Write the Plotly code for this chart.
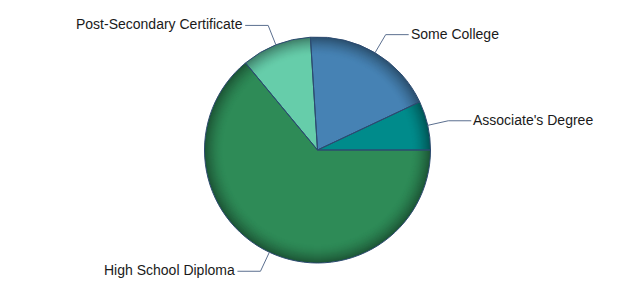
import numpy as np
import plotly.graph_objects as go

# Education attainment shares (percent)
labels = ["Associate's Degree", "Some College", "Post-Secondary Certificate", "High School Diploma"]
shares = [7, 19, 10, 64]
colors = ["#008B8B", "#4682B4", "#66CDAA", "#2E8B57"]

W, H = 635, 300
CX, CY, R = 317.5, 150.0, 113.0  # pie centre and radius in px


def domain(scale):
    r = R * scale
    return dict(x=[(CX - r) / W, (CX + r) / W],
                y=[1 - (CY + r) / H, 1 - (CY - r) / H])


def shade(hex_color, f):
    h = hex_color.lstrip("#")
    rgb = [int(h[i:i + 2], 16) for i in (0, 2, 4)]
    return "rgb({},{},{})".format(*[int(round(c * f)) for c in rgb])


total = float(sum(shares))
# Counterclockwise pies in plotly end their first slice at `rotation`,
# so shift it so the first slice starts at 3 o'clock.
rot = 90 - 360.0 * shares[0] / total

common = dict(labels=labels, values=shares, sort=False, direction="counterclockwise",
              rotation=rot, textinfo="none", hoverinfo="skip", showlegend=False)

fig = go.Figure()

# Layered discs give the darker rim around the pie
inner = 0.84
steps = 18
for k in range(steps + 1):
    s = 1.0 - (1.0 - inner) * k / steps
    t = (s - inner) / (1.0 - inner)
    f = 1.0 - 0.38 * t ** 1.6
    fig.add_trace(go.Pie(domain=domain(s), marker=dict(colors=[shade(c, f) for c in colors],
                                                        line=dict(width=0)), **common))

# Slice outlines on top
fig.add_trace(go.Pie(domain=domain(1.0),
                     marker=dict(colors=["rgba(0,0,0,0)"] * len(shares),
                                 line=dict(color="#2c4a70", width=1)), **common))

# Leader lines and labels
start = 0.0
shapes, annotations = [], []
for lab, v in zip(labels, shares):
    span = 360.0 * v / total
    mid = np.radians(start + span / 2)
    start += span
    side = 1 if np.cos(mid) >= 0 else -1
    x0, y0 = CX + R * np.cos(mid), CY - R * np.sin(mid)
    x1, y1 = CX + (R + 21) * np.cos(mid), CY - (R + 21) * np.sin(mid)
    x2 = x1 + side * 23
    path = "M {:.4f} {:.4f} L {:.4f} {:.4f} L {:.4f} {:.4f}".format(
        x0 / W, 1 - y0 / H, x1 / W, 1 - y1 / H, x2 / W, 1 - y1 / H)
    shapes.append(dict(type="path", path=path, xref="paper", yref="paper",
                       line=dict(color="#5b6f8f", width=1)))
    annotations.append(dict(x=x2 / W, y=1 - (y1 - 1) / H, xref="paper", yref="paper",
                            text=lab, showarrow=False,
                            xanchor="left" if side > 0 else "right", yanchor="middle",
                            font=dict(family="Liberation Sans, Arial, sans-serif", size=14,
                                      color="#1a1a1a")))

fig.update_layout(width=W, height=H, margin=dict(l=0, r=0, t=0, b=0),
                  paper_bgcolor="white", plot_bgcolor="white",
                  shapes=shapes, annotations=annotations)

fig.write_html("out.html")
